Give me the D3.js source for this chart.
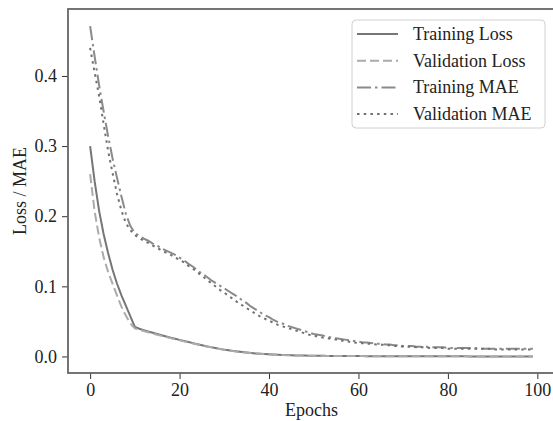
<!DOCTYPE html>
<html>
<head>
<meta charset="utf-8">
<script src="https://cdn.jsdelivr.net/npm/d3@7"></script>
<style>
  html, body { margin: 0; padding: 0; background: #fff; }
  svg text { font-family: "Liberation Serif", "Times New Roman", serif; fill: #222; }
</style>
</head>
<body>
<div id="chart"></div>
<script>
// values, one per epoch (0..99)
const epochs = d3.range(0, 100);

const trainingLoss = [
  0.300, 0.250, 0.208, 0.175, 0.148, 0.124, 0.104, 0.087, 0.072, 0.057,
  0.042, 0.0395, 0.0375, 0.0355, 0.0337, 0.032, 0.0302, 0.0285, 0.0268, 0.0252,
  0.0236, 0.022, 0.0205, 0.019, 0.0175, 0.016, 0.0146, 0.0133, 0.012, 0.0108,
  0.0097, 0.0087, 0.0078, 0.007, 0.0062, 0.0055, 0.0049, 0.0043, 0.0038, 0.0034,
  0.003, 0.0027, 0.0024, 0.0021, 0.0019, 0.0017, 0.0015, 0.0013, 0.0012, 0.0011,
  0.001, 0.0009, 0.0009, 0.0008, 0.0008, 0.0007, 0.0007, 0.0006, 0.0006, 0.0005,
  0.0005, 0.0005, 0.0004, 0.0004, 0.0004, 0.0004, 0.0003, 0.0003, 0.0003, 0.0003,
  0.0003, 0.0002, 0.0002, 0.0002, 0.0002, 0.0002, 0.0002, 0.0002, 0.0002, 0.0002,
  0.0002, 0.0002, 0.0002, 0.0002, 0.0002, 0.0001, 0.0001, 0.0001, 0.0001, 0.0001,
  0.0001, 0.0001, 0.0001, 0.0001, 0.0001, 0.0001, 0.0001, 0.0001, 0.0001, 0.0001
];

const validationLoss = [
  0.260, 0.207, 0.170, 0.142, 0.121, 0.104, 0.087, 0.071, 0.058, 0.047,
  0.040, 0.038, 0.0362, 0.0344, 0.0327, 0.031, 0.0293, 0.0277, 0.0261, 0.0245,
  0.023, 0.0215, 0.020, 0.0185, 0.0171, 0.0157, 0.0143, 0.013, 0.0118, 0.0106,
  0.0095, 0.0085, 0.0076, 0.0068, 0.0061, 0.0054, 0.0048, 0.0042, 0.0037, 0.0033,
  0.0029, 0.0026, 0.0023, 0.0021, 0.0018, 0.0016, 0.0015, 0.0013, 0.0012, 0.0011,
  0.001, 0.0009, 0.0009, 0.0008, 0.0008, 0.0007, 0.0007, 0.0006, 0.0006, 0.0005,
  0.0005, 0.0005, 0.0004, 0.0004, 0.0004, 0.0004, 0.0003, 0.0003, 0.0003, 0.0003,
  0.0003, 0.0002, 0.0002, 0.0002, 0.0002, 0.0002, 0.0002, 0.0002, 0.0002, 0.0002,
  0.0002, 0.0002, 0.0002, 0.0002, 0.0002, 0.0001, 0.0001, 0.0001, 0.0001, 0.0001,
  0.0001, 0.0001, 0.0001, 0.0001, 0.0001, 0.0001, 0.0001, 0.0001, 0.0001, 0.0001
];

const trainingMAE = [
  0.471, 0.428, 0.387, 0.350, 0.315, 0.283, 0.255, 0.228, 0.203, 0.186,
  0.176, 0.172, 0.168, 0.165, 0.161, 0.158, 0.154, 0.151, 0.148, 0.145,
  0.141, 0.137, 0.132, 0.128, 0.123, 0.118, 0.114, 0.109, 0.105, 0.101,
  0.097, 0.093, 0.089, 0.085, 0.080, 0.076, 0.071, 0.067, 0.063, 0.059,
  0.056, 0.052, 0.049, 0.047, 0.044, 0.042, 0.040, 0.038, 0.036, 0.034,
  0.032, 0.031, 0.030, 0.028, 0.027, 0.026, 0.025, 0.024, 0.023, 0.022,
  0.021, 0.020, 0.020, 0.019, 0.018, 0.018, 0.017, 0.017, 0.016, 0.016,
  0.015, 0.015, 0.015, 0.014, 0.014, 0.014, 0.013, 0.013, 0.013, 0.013,
  0.012, 0.012, 0.012, 0.012, 0.012, 0.012, 0.012, 0.011, 0.011, 0.011,
  0.011, 0.011, 0.011, 0.011, 0.011, 0.011, 0.011, 0.011, 0.011, 0.011
];

const validationMAE = [
  0.440, 0.405, 0.372, 0.332, 0.294, 0.262, 0.232, 0.208, 0.190, 0.180,
  0.173, 0.169, 0.165, 0.162, 0.158, 0.155, 0.151, 0.148, 0.145, 0.141,
  0.138, 0.134, 0.129, 0.125, 0.120, 0.115, 0.110, 0.105, 0.100, 0.095,
  0.091, 0.086, 0.082, 0.077, 0.073, 0.069, 0.065, 0.061, 0.057, 0.054,
  0.051, 0.048, 0.045, 0.043, 0.041, 0.039, 0.037, 0.035, 0.033, 0.031,
  0.030, 0.028, 0.027, 0.026, 0.025, 0.024, 0.023, 0.022, 0.021, 0.020,
  0.019, 0.019, 0.018, 0.018, 0.017, 0.017, 0.016, 0.016, 0.015, 0.015,
  0.014, 0.014, 0.014, 0.013, 0.013, 0.013, 0.012, 0.012, 0.012, 0.012,
  0.011, 0.011, 0.011, 0.011, 0.011, 0.011, 0.011, 0.011, 0.011, 0.011,
  0.010, 0.010, 0.010, 0.010, 0.010, 0.010, 0.010, 0.010, 0.010, 0.010
];

const xTicks = [0, 20, 40, 60, 80, 100];
const yTicks = [0.0, 0.1, 0.2, 0.3, 0.4];

const series = [
  { name: 'Training Loss', values: trainingLoss, color: '#767676', dash: null },
  { name: 'Validation Loss', values: validationLoss, color: '#ababab', dash: '9,4' },
  { name: 'Training MAE', values: trainingMAE, color: '#8a8a8a', dash: '14,4,2.5,4' },
  { name: 'Validation MAE', values: validationMAE, color: '#707070', dash: '2.5,4.2' }
];

const width = 553, height = 421;
const plot = { left: 68, top: 9, right: 555, bottom: 373 };

const svg = d3.select('#chart')
  .append('svg')
  .attr('width', width)
  .attr('height', height);

// matplotlib-like 5% margins
const x = d3.scaleLinear().domain([-4.95, 103.95]).range([plot.left, plot.right]);
const y = d3.scaleLinear().domain([-0.0236, 0.4955]).range([plot.bottom, plot.top]);

svg.append('clipPath').attr('id', 'clip')
  .append('rect')
  .attr('x', plot.left).attr('y', plot.top)
  .attr('width', plot.right - plot.left).attr('height', plot.bottom - plot.top);

// Lines
const line = d3.line()
  .x((d, i) => x(epochs[i]))
  .y(d => y(d));

const lines = svg.append('g').attr('clip-path', 'url(#clip)');
series.forEach(s => {
  lines.append('path')
    .datum(s.values)
    .attr('d', line)
    .attr('fill', 'none')
    .attr('stroke', s.color)
    .attr('stroke-width', 2)
    .attr('stroke-dasharray', s.dash);
});

// Axes
const xAxis = svg.append('g')
  .attr('transform', `translate(0,${plot.bottom})`)
  .call(d3.axisBottom(x).tickValues(xTicks).tickSize(6).tickPadding(4).tickFormat(d3.format('d')));

const yAxis = svg.append('g')
  .attr('transform', `translate(${plot.left},0)`)
  .call(d3.axisLeft(y).tickValues(yTicks).tickSize(6).tickPadding(5).tickFormat(d3.format('.1f')));

[xAxis, yAxis].forEach(a => {
  a.select('.domain').remove();
  a.selectAll('.tick line').attr('stroke', '#333').attr('stroke-width', 1);
  a.selectAll('.tick text')
    .attr('font-size', 18)
    .attr('font-family', '"Liberation Serif", serif')
    .attr('fill', '#222');
});

// Spines
svg.append('rect')
  .attr('x', plot.left).attr('y', plot.top)
  .attr('width', plot.right - plot.left).attr('height', plot.bottom - plot.top)
  .attr('fill', 'none')
  .attr('stroke', '#666')
  .attr('stroke-width', 1.8);

// Axis labels
svg.append('text')
  .attr('x', (plot.left + plot.right) / 2)
  .attr('y', 416)
  .attr('text-anchor', 'middle')
  .attr('font-size', 18)
  .text('Epochs');

svg.append('text')
  .attr('transform', `translate(26,${(plot.top + plot.bottom) / 2}) rotate(-90)`)
  .attr('text-anchor', 'middle')
  .attr('font-size', 18)
  .text('Loss / MAE');

// Legend
const legend = svg.append('g');
legend.append('rect')
  .attr('x', 352).attr('y', 20)
  .attr('width', 193).attr('height', 108)
  .attr('rx', 4)
  .attr('fill', 'white').attr('fill-opacity', 0.8)
  .attr('stroke', '#d0d0d0').attr('stroke-width', 1);

series.forEach((s, i) => {
  const ly = 34 + i * 26.7;
  legend.append('line')
    .attr('x1', 357).attr('x2', 398)
    .attr('y1', ly).attr('y2', ly)
    .attr('stroke', s.color)
    .attr('stroke-width', 2)
    .attr('stroke-dasharray', s.dash);
  legend.append('text')
    .attr('x', 413).attr('y', ly + 6)
    .attr('font-size', 18)
    .text(s.name);
});
</script>
</body>
</html>
